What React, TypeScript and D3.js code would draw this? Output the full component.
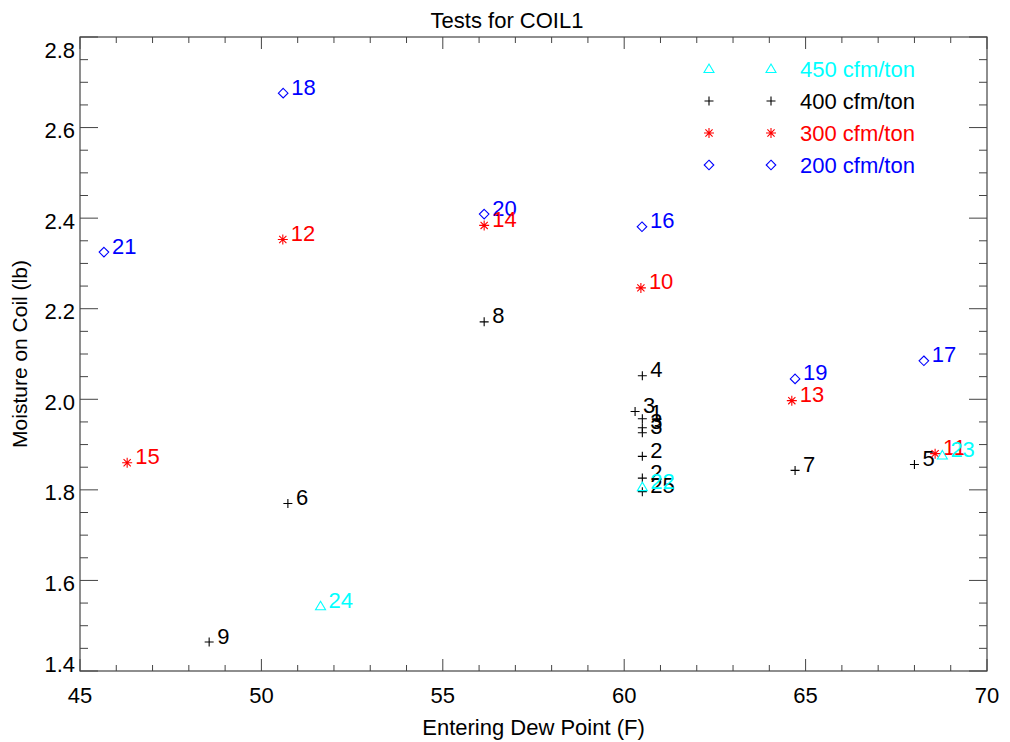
import React, { useEffect, useRef } from 'react';
import * as d3 from 'd3';

// series: 450, 400, 300, 200 cfm/ton
const cyanX = [60.5, 68.77, 51.63];
const cyanY = [1.806, 1.876, 1.543];
const cyanLab = ['22', '23', '24'];

const blackX = [60.5, 60.3, 60.5, 60.5, 60.5, 60.5, 60.5, 60.5, 64.71, 68.0, 50.73, 56.14, 48.56];
const blackY = [2.052, 1.973, 1.957, 1.937, 1.926, 1.874, 1.826, 1.796, 1.843, 1.856, 1.770, 2.171, 1.464];
const blackLab = ['4', '3', '1', '3', '3', '2', '2', '25', '7', '5', '6', '8', '9'];

const redX = [50.59, 56.14, 60.46, 64.62, 46.3, 68.57];
const redY = [2.353, 2.384, 2.246, 1.997, 1.86, 1.88];
const redLab = ['12', '14', '10', '13', '15', '11'];

const blueX = [50.6, 56.14, 45.66, 60.49, 64.71, 68.26];
const blueY = [2.676, 2.409, 2.325, 2.381, 2.045, 2.085];
const blueLab = ['18', '20', '21', '16', '19', '17'];

const legendNames = ['450 cfm/ton', '400 cfm/ton', '300 cfm/ton', '200 cfm/ton'];
const xTicks = [45, 50, 55, 60, 65, 70];
const yTicks = [1.4, 1.6, 1.8, 2.0, 2.2, 2.4, 2.6, 2.8];

const FONT = '"Liberation Sans", Arial, Helvetica, sans-serif';
const FS = 22;

function symbolPath(kind: string, s: number) {
    if (kind === 'plus') return `M${-s},0H${s}M0,${-s}V${s}`;
    if (kind === 'star') {
        const d = s * 0.72;
        return `M${-s},0H${s}M0,${-s}V${s}M${-d},${-d}L${d},${d}M${-d},${d}L${d},${-d}`;
    }
    if (kind === 'diamond') return `M0,${-s}L${s},0L0,${s}L${-s},0Z`;
    // triangle
    return `M0,${-s}L${s},${s * 0.7}L${-s},${s * 0.7}Z`;
}

function App() {
    const ref = useRef(null);

    useEffect(() => {
        const svg = d3.select(ref.current);
        svg.selectAll('*').remove();

        const margin = { top: 37, right: 987, bottom: 671, left: 80 };

        const x = d3.scaleLinear().domain([45, 70]).range([margin.left, margin.right]);
        const y = d3.scaleLinear().domain([1.4, 2.8]).range([margin.bottom, margin.top]);

        const axisColor = '#444';
        const g = svg.append('g');

        // frame
        g.append('rect')
            .attr('x', margin.left).attr('y', margin.top)
            .attr('width', margin.right - margin.left)
            .attr('height', margin.bottom - margin.top)
            .attr('fill', 'none').attr('stroke', axisColor).attr('stroke-width', 1.2);

        // x ticks (bottom + top)
        const xMinor = d3.range(45, 70.01, 1);
        xMinor.forEach(v => {
            const major = v % 5 === 0;
            const len = major ? 12 : 6;
            g.append('line').attr('x1', x(v)).attr('x2', x(v))
                .attr('y1', margin.bottom).attr('y2', margin.bottom - len)
                .attr('stroke', axisColor);
            g.append('line').attr('x1', x(v)).attr('x2', x(v))
                .attr('y1', margin.top).attr('y2', margin.top + len)
                .attr('stroke', axisColor);
        });

        // y ticks (left + right)
        const yMinor = d3.range(0, 29).map(i => 1.4 + i * 0.05);
        yMinor.forEach((v, i) => {
            const major = i % 4 === 0;
            const len = major ? 18 : 8;
            g.append('line').attr('y1', y(v)).attr('y2', y(v))
                .attr('x1', margin.left).attr('x2', margin.left + len)
                .attr('stroke', axisColor);
            g.append('line').attr('y1', y(v)).attr('y2', y(v))
                .attr('x1', margin.right).attr('x2', margin.right - len)
                .attr('stroke', axisColor);
        });

        g.selectAll('.xl').data(xTicks).enter().append('text')
            .attr('x', d => x(d)).attr('y', 703)
            .attr('text-anchor', 'middle')
            .attr('font-family', FONT).attr('font-size', FS)
            .text(d => d3.format('d')(d));

        g.selectAll('.yl').data(yTicks).enter().append('text')
            .attr('x', 75)
            .attr('y', d => Math.max(margin.top + 13, Math.min(margin.bottom - 7, y(d) + 3)) + 7.5)
            .attr('text-anchor', 'end')
            .attr('font-family', FONT).attr('font-size', FS)
            .text(d => d3.format('.1f')(d));

        svg.append('text')
            .attr('x', 507).attr('y', 28)
            .attr('text-anchor', 'middle')
            .attr('font-family', FONT).attr('font-size', FS)
            .text('Tests for COIL1');

        svg.append('text')
            .attr('x', (margin.left + margin.right) / 2).attr('y', 735)
            .attr('text-anchor', 'middle')
            .attr('font-family', FONT).attr('font-size', 22)
            .text('Entering Dew Point (F)');

        svg.append('text')
            .attr('transform', `translate(27,${(margin.top + margin.bottom) / 2}) rotate(-90)`)
            .attr('text-anchor', 'middle')
            .attr('font-family', FONT).attr('font-size', 21)
            .text('Moisture on Coil (lb)');

        const series = [
            { xs: blackX, ys: blackY, labs: blackLab, color: '#000000', kind: 'plus', size: 4.5 },
            { xs: blueX, ys: blueY, labs: blueLab, color: '#0000ff', kind: 'diamond', size: 4.8 },
            { xs: redX, ys: redY, labs: redLab, color: '#ff0000', kind: 'star', size: 5 },
            { xs: cyanX, ys: cyanY, labs: cyanLab, color: '#00ffff', kind: 'tri', size: 5 },
        ];

        series.forEach(s => {
            const pts = s.xs.map((v, i) => ({ x: v, y: s.ys[i], lab: s.labs[i] }));
            const sg = svg.append('g');
            sg.selectAll('path').data(pts).enter().append('path')
                .attr('transform', d => `translate(${x(d.x)},${y(d.y)})`)
                .attr('d', symbolPath(s.kind, s.size))
                .attr('fill', 'none').attr('stroke', s.color).attr('stroke-width', 1.1);
            sg.selectAll('text').data(pts).enter().append('text')
                .attr('x', d => x(d.x) + 8).attr('y', d => y(d.y) + 1.5)
                .attr('font-family', FONT).attr('font-size', FS)
                .attr('fill', s.color)
                .text(d => d.lab);
        });

        // legend
        const legendSeries = [series[3], series[0], series[2], series[1]];
        const lg = svg.append('g');
        legendNames.forEach((name, i) => {
            const s = legendSeries[i];
            const ly = 69 + i * 32;
            [709, 771].forEach(lx => {
                lg.append('path')
                    .attr('transform', `translate(${lx},${ly})`)
                    .attr('d', symbolPath(s.kind, s.size))
                    .attr('fill', 'none').attr('stroke', s.color).attr('stroke-width', 1.1);
            });
            lg.append('text')
                .attr('x', 800).attr('y', ly + 7.5)
                .attr('font-family', FONT).attr('font-size', FS)
                .attr('fill', s.color)
                .text(name);
        });
    }, []);

    return (
        <svg ref={ref} width={1010} height={742}
            style={{ position: 'absolute', left: 0, top: 0, background: '#fff' }} />
    );
}

export default App;
